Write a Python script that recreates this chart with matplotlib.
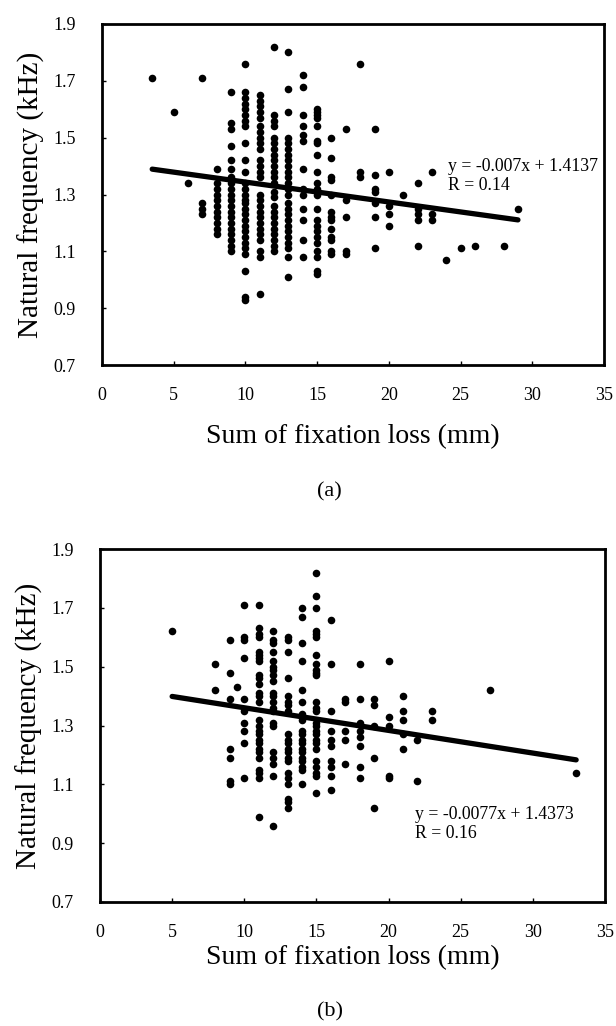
import numpy as np
import matplotlib.pyplot as plt

plt.rcParams['font.family'] = ['Liberation Serif', 'DejaVu Serif']

# ---- panel (a): fixation loss columns and the frequencies
fix_a = [3.5, 5, 6, 7, 8, 9, 10, 11, 12, 13, 14, 15, 16, 17, 18, 19, 20, 21, 22, 23, 24, 25, 26, 28, 29]
freq_a = [
    [1.71],
    [1.59],
    [1.34],
    [1.71, 1.27, 1.25, 1.23],
    [1.39, 1.34, 1.32, 1.30, 1.28, 1.26, 1.24, 1.22, 1.20, 1.18, 1.16],
    [1.66, 1.55, 1.53, 1.47, 1.42, 1.39, 1.36, 1.34, 1.32, 1.30, 1.28, 1.26, 1.24, 1.22, 1.20, 1.18, 1.16, 1.14, 1.12, 1.10],
    [1.76, 1.66, 1.64, 1.62, 1.60, 1.58, 1.56, 1.54, 1.48, 1.42, 1.38, 1.34, 1.32, 1.30, 1.28, 1.27, 1.25, 1.23, 1.21,
     1.19, 1.17, 1.15, 1.13, 1.11, 1.09, 1.03, 0.94, 0.93],
    [1.65, 1.63, 1.61, 1.59, 1.57, 1.54, 1.52, 1.50, 1.48, 1.46, 1.42, 1.40, 1.38, 1.36, 1.30, 1.28, 1.26, 1.24, 1.22,
     1.20, 1.18, 1.16, 1.14, 1.10, 1.08, 0.95],
    [1.82, 1.58, 1.56, 1.54, 1.50, 1.48, 1.46, 1.44, 1.42, 1.40, 1.38, 1.36, 1.34, 1.31, 1.29, 1.26, 1.24, 1.22, 1.20,
     1.18, 1.16, 1.14, 1.12, 1.10],
    [1.80, 1.67, 1.59, 1.50, 1.48, 1.46, 1.44, 1.42, 1.40, 1.38, 1.36, 1.34, 1.32, 1.30, 1.27, 1.25, 1.23, 1.21, 1.19,
     1.17, 1.15, 1.13, 1.11, 1.08, 1.01],
    [1.72, 1.68, 1.58, 1.54, 1.51, 1.49, 1.39, 1.32, 1.30, 1.25, 1.21, 1.14, 1.08],
    [1.60, 1.59, 1.58, 1.57, 1.54, 1.49, 1.48, 1.44, 1.38, 1.34, 1.32, 1.30, 1.25, 1.21, 1.19, 1.17, 1.15, 1.13, 1.10,
     1.08, 1.03, 1.02],
    [1.50, 1.43, 1.36, 1.35, 1.30, 1.24, 1.22, 1.21, 1.18, 1.15, 1.14, 1.10, 1.09],
    [1.53, 1.28, 1.22, 1.10, 1.09],
    [1.76, 1.38, 1.36],
    [1.53, 1.37, 1.32, 1.31, 1.27, 1.22, 1.11],
    [1.38, 1.26, 1.23, 1.19],
    [1.30],
    [1.34, 1.25, 1.23, 1.21, 1.12],
    [1.38, 1.23, 1.21],
    [1.07],
    [1.11],
    [1.12],
    [1.12],
    [1.25],
]
slope_a, icpt_a = -0.007, 1.4137
eq_a = ['y = -0.007x + 1.4137', 'R = 0.14']

# ---- panel (b)
fix_b = [5, 8, 9, 9.5, 10, 11, 12, 13, 14, 15, 16, 17, 18, 19, 20, 21, 22, 23, 27, 33]
freq_b = [
    [1.62],
    [1.51, 1.42],
    [1.59, 1.48, 1.39, 1.22, 1.19, 1.11, 1.10],
    [1.43],
    [1.71, 1.60, 1.59, 1.53, 1.39, 1.35, 1.31, 1.28, 1.24, 1.12],
    [1.71, 1.63, 1.61, 1.60, 1.55, 1.54, 1.53, 1.52, 1.47, 1.46, 1.44, 1.41, 1.40, 1.38, 1.32, 1.30, 1.28, 1.27, 1.25,
     1.24, 1.22, 1.21, 1.19, 1.15, 1.14, 1.12, 0.99],
    [1.62, 1.59, 1.58, 1.55, 1.52, 1.50, 1.49, 1.47, 1.45, 1.41, 1.40, 1.38, 1.36, 1.35, 1.31, 1.30, 1.21, 1.19, 1.17,
     1.13, 0.96],
    [1.60, 1.59, 1.55, 1.46, 1.40, 1.38, 1.37, 1.35, 1.27, 1.25, 1.24, 1.22, 1.21, 1.19, 1.18, 1.14, 1.12, 1.10, 1.05,
     1.04, 1.02],
    [1.70, 1.67, 1.58, 1.52, 1.42, 1.38, 1.34, 1.32, 1.28, 1.27, 1.25, 1.24, 1.22, 1.21, 1.19, 1.18, 1.16, 1.15, 1.10],
    [1.82, 1.74, 1.70, 1.62, 1.61, 1.60, 1.54, 1.51, 1.49, 1.48, 1.47, 1.38, 1.36, 1.35, 1.31, 1.30, 1.28, 1.27, 1.25,
     1.24, 1.22, 1.18, 1.16, 1.14, 1.13, 1.07],
    [1.66, 1.51, 1.35, 1.28, 1.25, 1.23, 1.18, 1.16, 1.13, 1.08],
    [1.39, 1.38, 1.28, 1.25, 1.17],
    [1.51, 1.39, 1.31, 1.28, 1.26, 1.23, 1.16, 1.12],
    [1.39, 1.37, 1.30, 1.19, 1.02],
    [1.52, 1.33, 1.30, 1.13, 1.12],
    [1.40, 1.35, 1.32, 1.27, 1.22],
    [1.25, 1.11],
    [1.35, 1.32],
    [1.42],
    [1.14],
]
slope_b, icpt_b = -0.0077, 1.4373
eq_b = ['y = -0.0077x + 1.4373', 'R = 0.16']

x_ticks = [0, 5, 10, 15, 20, 25, 30, 35]
y_ticks = [0.7, 0.9, 1.1, 1.3, 1.5, 1.7, 1.9]


def flatten(cols, vals):
    xs, ys = [], []
    for c, v in zip(cols, vals):
        xs += [c] * len(v)
        ys += v
    return np.array(xs), np.array(ys)


def draw_panel(ax, cols, vals, slope, icpt, eq, eq_pos, xlabelpad):
    x, y = flatten(cols, vals)
    ax.scatter(x, y, s=30, color='black', linewidths=0, zorder=3)
    xl = np.array([x.min(), x.max()])
    ax.plot(xl, slope * xl + icpt, color='black', lw=3.8, solid_capstyle='round', zorder=4)

    ax.set_xlim(0, 35)
    ax.set_ylim(0.7, 1.9)
    ax.set_xticks(x_ticks)
    ax.set_yticks(y_ticks)
    ax.set_yticklabels([f'{t:.1f}' for t in y_ticks])
    ax.tick_params(direction='in', length=3, width=1, labelsize=13)
    ax.tick_params(axis='x', pad=16)
    ax.tick_params(axis='y', pad=19)
    for sp in ax.spines.values():
        sp.set_linewidth(2)

    ax.set_xlabel('Sum of fixation loss (mm)', fontsize=20, labelpad=xlabelpad)
    ax.set_ylabel('Natural frequency (kHz)', fontsize=21, labelpad=6)

    ax.text(eq_pos[0], eq_pos[1], eq[0] + '\n' + eq[1], fontsize=12.8,
            ha='left', va='center', linespacing=1.15)


fig = plt.figure(figsize=(6.16, 10.26), dpi=100)

ax_a = fig.add_axes([102 / 616, 1 - 365 / 1026, 502 / 616, 341 / 1026])
draw_panel(ax_a, fix_a, freq_a, slope_a, icpt_a, eq_a, (24.1, 1.365), 14)
fig.text(0.535, 1 - 492 / 1026, '(a)', fontsize=16, ha='center', va='center')

ax_b = fig.add_axes([100 / 616, 1 - 902 / 1026, 505 / 616, 353 / 1026])
draw_panel(ax_b, fix_b, freq_b, slope_b, icpt_b, eq_b, (21.8, 0.965), 3)
fig.text(0.535, 1 - 1012 / 1026, '(b)', fontsize=16, ha='center', va='center')

fig.savefig('out.png', dpi=100, facecolor='white')
